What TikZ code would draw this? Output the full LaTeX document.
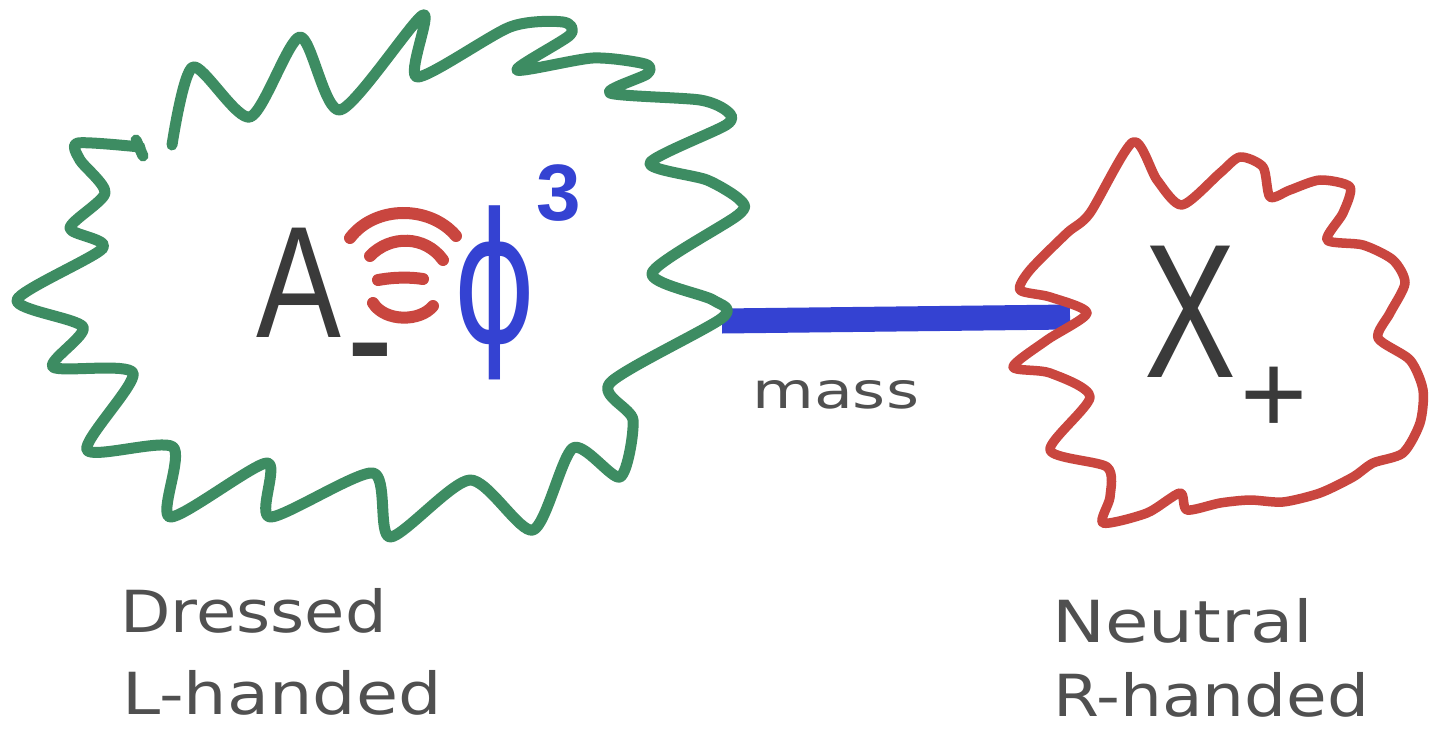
\documentclass[tikz,border=0pt]{standalone}
\usepackage{fontspec}
\setmainfont{DejaVu Sans}
\newfontfamily\letterfont{Liberation Sans}
\newfontfamily\symfont{DejaVu Sans}
\definecolor{gblob}{HTML}{3D8C62}
\definecolor{rblob}{HTML}{C9463F}
\definecolor{bmark}{HTML}{3442D2}
\definecolor{ink}{HTML}{3A3A3A}
\definecolor{pencil}{HTML}{505050}
\tikzset{
  outlinegreen/.style={draw=gblob, line width=11pt, line cap=round, line join=round},
  outlinered/.style={draw=rblob, line width=9.5pt, line cap=round, line join=round},
  massbar/.style={draw=bmark, line width=25pt},
  redarc/.style={draw=rblob, line width=12pt, line cap=round},
  biglabel/.style={inner sep=0pt, text=ink},
  hand/.style={inner sep=0pt, text=pencil, anchor=base west, font=\fontsize{58}{60}\selectfont},
}
\begin{document}
\begin{tikzpicture}[x=1pt,y=-1pt]
\fill[white] (0,0) rectangle (1431,730);
\useasboundingbox (0,0) rectangle (1431,730);
\coordinate (gtip) at (722,321);
\coordinate (rtip) at (1070,317);
\draw[massbar] (gtip) -- (rtip);
% green spiky outline (open at top left)
\draw[outlinegreen] plot[smooth,tension=0.45] coordinates {
 (172,145) (193,67) (250,117) (300,37) (340,110) (423,15) (417,77) (510,27)
 (563,22) (570,35) (517,70) (593,58) (645,64) (647,74) (610,93) (700,100)
 (728,112) (726,125) (650,163) (707,180) (740,200) (738,215) (652,273) (713,300)
 (722,318) (610,383) (633,420) (620,477) (573,448) (533,530) (470,480) (390,537)
 (373,473) (270,517) (267,463) (170,517) (173,447) (87,450) (133,373) (53,367)
 (83,327) (17,300) (103,248) (70,228) (105,193) (80,160) (78,143) (140,147)};
\draw[outlinegreen] (136,140) -- (143,156);
% red wavy outline
\draw[outlinered] plot[smooth cycle,tension=0.45] coordinates {
 (1133,142) (1157,180) (1182,205) (1220,173) (1240,157) (1263,167) (1270,197)
 (1290,190) (1320,180) (1350,187) (1343,213) (1327,240) (1363,245) (1393,260)
 (1405,283) (1390,313) (1378,338) (1410,360) (1423,390) (1420,423) (1403,453)
 (1373,463) (1353,477) (1320,493) (1283,502) (1250,500) (1220,503) (1187,510)
 (1180,493) (1147,513) (1103,523) (1110,497) (1107,467) (1050,450) (1090,397)
 (1050,373) (1013,367) (1047,340) (1087,313) (1050,297) (1020,290) (1030,270)
 (1067,233) (1090,213)};
% red arcs
\draw[redarc] (350,238) .. controls (375,205) and (430,205) .. (456,236);
\draw[redarc] (370,256) .. controls (390,235) and (425,235) .. (443,260);
\draw[redarc] (378,280) .. controls (395,277) and (410,277) .. (423,279);
\draw[redarc] (373,303) .. controls (385,322) and (420,322) .. (433,306);
% letters
\node[biglabel, anchor=base] (A) at (299,337) {\letterfont\fontsize{159}{160}\selectfont\scalebox{0.8}[1]{A}};
\node[biglabel, anchor=base] (Asub) at (370,390) {\letterfont\bfseries\fontsize{68}{70}\selectfont\scalebox{1}[1.8]{−}};
\node[inner sep=0pt, text=bmark, anchor=center] (phi) at (495,293) {\symfont\fontsize{180}{180}\selectfont\scalebox{0.7}[1]{ϕ}};
\node[inner sep=0pt, text=bmark, anchor=base] (three) at (559,220) {\letterfont\bfseries\fontsize{80}{82}\selectfont 3};
\node[biglabel, anchor=base] (X) at (1190,377) {\letterfont\fontsize{191}{192}\selectfont\scalebox{0.72}[1]{X}};
\node[biglabel, anchor=base] (plus) at (1274,433) {\letterfont\fontsize{115}{116}\selectfont +};
% handwritten labels
\node[hand, font=\fontsize{50}{52}\selectfont] (mass) at (752,408) {\scalebox{1.27}[1]{mass}};
\node[hand] (dressed) at (120,632) {\scalebox{1.13}[1]{Dressed}};
\node[hand] (lhand) at (122,714) {\scalebox{1.18}[1]{L-handed}};
\node[hand] (neutral) at (1052,642) {\scalebox{1.22}[1]{Neutral}};
\node[hand] (rhand) at (1053,716) {\scalebox{1.14}[1]{R-handed}};
\end{tikzpicture}
\end{document}
